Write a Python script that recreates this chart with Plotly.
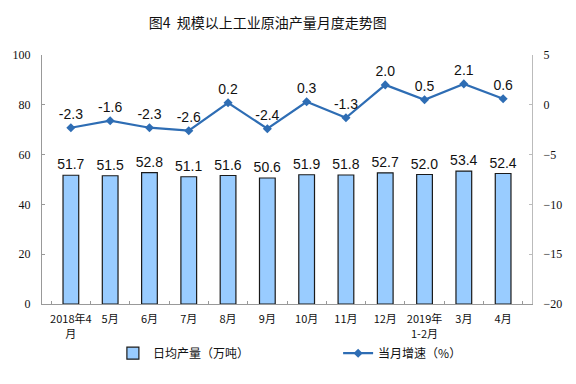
import plotly.graph_objects as go

categories = ["2018年4<br>月", "5月", "6月", "7月", "8月", "9月", "10月", "11月", "12月", "2019年<br>1-2月", "3月", "4月"]
output = [51.7, 51.5, 52.8, 51.1, 51.6, 50.6, 51.9, 51.8, 52.7, 52.0, 53.4, 52.4]
growth = [-2.3, -1.6, -2.3, -2.6, 0.2, -2.4, 0.3, -1.3, 2.0, 0.5, 2.1, 0.6]

fig = go.Figure()
fig.add_trace(go.Bar(
    x=categories, y=output, name="日均产量（万吨）", legend="legend",
    marker=dict(color="#99CCFF", line=dict(color="#1a1a1a", width=1.2)),
    width=0.4,
    text=[f"{v:.1f}" for v in output], textposition="outside",
    constraintext="none",
    textfont=dict(family="Arial, Liberation Sans", size=14, color="#111"),
    cliponaxis=False,
))
fig.add_trace(go.Scatter(
    x=categories, y=growth, name="当月增速（%）", yaxis="y2", legend="legend2",
    mode="lines+markers+text",
    line=dict(color="#2E6DB4", width=2.2),
    marker=dict(symbol="diamond", size=7, color="#2E6DB4"),
    text=[f"{v:.1f}" for v in growth], textposition="top center",
    textfont=dict(family="Arial, Liberation Sans", size=14, color="#111"),
    cliponaxis=False,
))

legend_font = dict(family="Noto Sans CJK SC", size=12, color="#111")

fig.update_layout(
    width=576, height=384,
    margin=dict(l=42, r=44, t=55, b=80),
    paper_bgcolor="white", plot_bgcolor="white",
    title=dict(text="图4  规模以上工业原油产量月度走势图", x=0.465, xanchor="center", y=0.94, yanchor="middle",
               font=dict(family="Noto Sans CJK SC", size=14, color="#111")),
    xaxis=dict(showline=True, linecolor="#999", linewidth=1, ticks="inside", ticklen=3, tickcolor="#999",
               tickson="boundaries", showgrid=False, automargin=False, ticklabelstandoff=5,
               tickfont=dict(family="Noto Sans CJK SC", size=11, color="#111"),
               tickangle=0),
    yaxis=dict(range=[0, 100], dtick=20, showline=True, linecolor="#999", ticks="inside", ticklen=3,
               tickcolor="#999", showgrid=False, zeroline=False, automargin=False, ticklabelstandoff=8,
               tickfont=dict(family="Liberation Serif, Times New Roman", size=12, color="#111")),
    yaxis2=dict(range=[-20, 5], dtick=5, overlaying="y", side="right", showline=True, linecolor="#bbb",
                ticks="inside", ticklen=3, tickcolor="#bbb", showgrid=False, zeroline=False,
                automargin=False, ticklabelstandoff=8,
                tickfont=dict(family="Liberation Serif, Times New Roman", size=12, color="#111")),
    legend=dict(orientation="h", xref="container", yref="container", x=0.196, xanchor="left",
                y=0.118, yanchor="top", font=legend_font, bgcolor="rgba(0,0,0,0)"),
    legend2=dict(orientation="h", xref="container", yref="container", x=0.587, xanchor="left",
                 y=0.118, yanchor="top", font=legend_font, bgcolor="rgba(0,0,0,0)"),
    showlegend=True,
    bargap=0.6,
)

fig.write_html("out.html", config={"displayModeBar": False},
               post_script="document.body.style.margin='0';document.body.style.padding='0';")
